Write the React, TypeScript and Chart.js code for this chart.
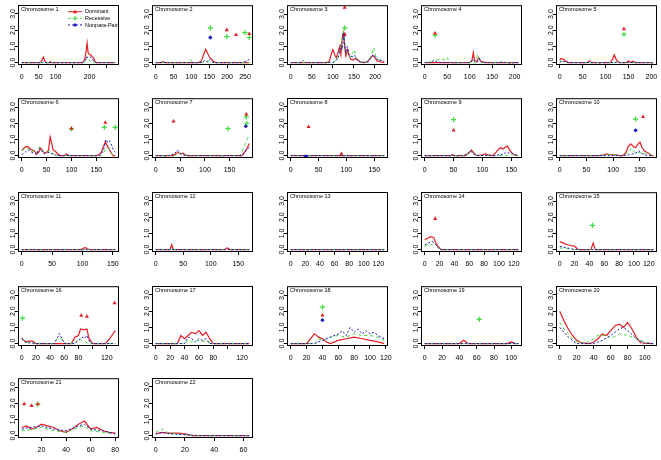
import React, { useEffect, useRef } from 'react';
import { Chart, registerables } from 'chart.js';
Chart.register(...registerables);

type P = [number, number];

const chrNames = Array.from({ length: 22 }, (_, i) => 'Chromosome ' + (i + 1));
const chrStart = [0, 0, 0, 0, 0, 0, 0, 0, 0, 0, 0, 0, 0, 0, 0, 0, 0, 0, 0, 0, 4, 0];
const chrEnd = [276, 262, 222, 208, 204, 188, 190, 168, 162, 175, 154, 170, 128, 126, 126, 132, 130, 118, 108, 110, 80, 64];
const xTickStep = [50, 50, 50, 50, 50, 50, 50, 50, 50, 50, 50, 50, 20, 20, 20, 20, 20, 20, 20, 20, 20, 20];
const xHiddenLabels: number[][] = [[150, 250], [], [], [], [], [], [], [], [], [], [], [], [], [], [], [100], [100], [], [], [], [], []];
const yTicks = [0, 1, 2, 3];
const yTickLabels = ['0.0', '1.0', '2.0', '3.0'];
const seriesNames = ['Dominant', 'Recessive', 'Nonpara-Pair'];

const dominantLOD: P[][] = [
  [[0,0],[55,0],[60,0.15],[64,0.35],[68,0.1],[72,0],[82,0],[85,0.06],[88,0],[180,0],[186,0.2],[190,0.7],[193,1.2],[196,0.6],[200,0.5],[205,0.45],[208,0.35],[212,0.3],[216,0.05],[220,0],[276,0]],
  [[0,0],[15,0],[20,0.05],[25,0],[120,0],[128,0.1],[134,0.5],[140,0.83],[145,0.6],[150,0.35],[155,0.25],[160,0.1],[168,0],[262,0]],
  [[0,0],[85,0],[92,0.1],[97,0.6],[100,0.8],[104,0.5],[108,0.3],[112,0.6],[116,0.95],[119,0.5],[122,1.5],[125,1.85],[128,1.0],[131,0.4],[135,0.8],[139,0.4],[143,0.2],[148,0.15],[153,0.25],[158,0.2],[163,0.05],[172,0],[182,0.05],[188,0.25],[195,0.45],[200,0.3],[205,0.1],[212,0.05],[222,0]],
  [[0,0],[100,0],[105,0.1],[108,0.62],[111,0.1],[115,0.05],[120,0.3],[124,0.1],[130,0.05],[135,0],[208,0]],
  [[0,0.15],[3,0.25],[8,0.2],[13,0.1],[18,0],[60,0],[65,0.1],[68,0],[110,0],[115,0.2],[119,0.48],[123,0.2],[127,0.05],[132,0],[145,0],[150,0.1],[155,0],[160,0.08],[165,0],[204,0]],
  [[0,0.3],[4,0.45],[8,0.55],[12,0.55],[16,0.45],[20,0.35],[25,0.3],[30,0.1],[34,0.2],[38,0.45],[42,0.3],[46,0.15],[50,0.2],[54,0.35],[57,1.15],[60,0.8],[63,0.35],[68,0.25],[72,0.1],[78,0],[86,0],[90,0.1],[94,0],[150,0],[155,0.05],[160,0.2],[164,0.55],[168,0.85],[172,0.6],[176,0.4],[180,0.15],[184,0],[188,0]],
  [[0,0],[35,0],[40,0.1],[45,0.2],[50,0.1],[55,0.15],[60,0.05],[65,0],[175,0],[180,0.2],[184,0.35],[190,0.75]],
  [[0,0],[168,0]],
  [[0,0],[45,0],[48,0.05],[52,0],[70,0],[76,0.15],[81,0.35],[85,0.15],[90,0],[100,0.05],[105,0.1],[110,0.05],[118,0],[122,0.15],[127,0.35],[131,0.5],[135,0.4],[139,0.5],[143,0.6],[147,0.35],[151,0.15],[155,0.05],[162,0]],
  [[0,0],[75,0],[82,0.05],[88,0.1],[95,0.05],[105,0.05],[112,0],[118,0],[124,0.2],[128,0.55],[133,0.73],[138,0.55],[142,0.5],[146,0.7],[150,0.83],[154,0.5],[158,0.3],[163,0.2],[168,0.1],[172,0],[175,0]],
  [[0,0],[98,0],[102,0.1],[105,0.12],[108,0.05],[112,0],[154,0]],
  [[0,0],[26,0],[29,0.3],[32,0],[125,0],[130,0.1],[135,0],[170,0]],
  [[0,0],[128,0]],
  [[0,0.6],[4,0.7],[8,0.8],[12,0.75],[15,0.4],[18,0.2],[22,0],[126,0]],
  [[0,0.5],[5,0.4],[10,0.3],[15,0.25],[20,0.2],[25,0],[42,0],[45,0.4],[48,0],[126,0]],
  [[0,0.35],[5,0.1],[10,0.15],[15,0.15],[20,0],[70,0],[75,0.4],[80,0.5],[83,0.9],[88,0.85],[92,0.9],[95,0.3],[100,0],[118,0],[124,0.3],[132,0.8]],
  [[0,0],[30,0],[35,0.5],[40,0.3],[45,0.5],[50,0.7],[55,0.6],[60,0.8],[65,0.5],[70,0.7],[75,0.3],[80,0],[130,0]],
  [[0,0],[20,0],[25,0.3],[30,0.6],[35,0.4],[40,0.3],[45,0.1],[50,0],[60,0.2],[70,0.3],[80,0.4],[90,0.3],[100,0.2],[110,0.1],[118,0]],
  [[0,0],[40,0],[45,0.2],[50,0],[95,0],[100,0.1],[105,0],[108,0]],
  [[0,2.0],[5,1.4],[10,0.9],[15,0.5],[20,0.2],[25,0.05],[35,0],[40,0.1],[45,0.3],[50,0.6],[55,0.5],[60,0.8],[65,1.1],[70,1.2],[75,1.0],[80,1.3],[85,0.9],[90,0.4],[95,0.05],[110,0]],
  [[4,0.5],[8,0.6],[12,0.4],[16,0.5],[20,0.7],[25,0.6],[30,0.5],[35,0.3],[40,0.2],[45,0.4],[50,0.7],[55,0.9],[60,0.4],[65,0.5],[70,0.3],[75,0.2],[80,0.15]],
  [[0,0.1],[4,0.2],[8,0.15],[15,0.15],[20,0.1],[25,0],[64,0]],
];

const recessiveLOD: P[][] = [
  [[0,0],[185,0],[190,0.2],[193,0.35],[197,0.2],[202,0.1],[206,0],[276,0]],
  [[0,0],[90,0],[97,0.2],[103,0],[140,0],[150,0.1],[158,0],[262,0]],
  [[0,0],[100,0],[108,0.1],[115,0.6],[120,1.2],[125,2.0],[128,1.3],[132,0.5],[137,0.6],[142,0.3],[147,0.6],[151,0.8],[155,0.3],[160,0.1],[170,0],[185,0.1],[192,0.5],[197,0.9],[202,0.4],[208,0.2],[222,0.1]],
  [[0,0],[15,0.05],[25,0.15],[32,0.2],[38,0.25],[45,0.15],[50,0.3],[55,0.05],[60,0],[112,0],[118,0.48],[122,0.1],[130,0],[165,0],[170,0.05],[175,0],[208,0]],
  [[0,0.1],[8,0.05],[15,0],[204,0]],
  [[0,0.3],[5,0.4],[10,0.5],[15,0.4],[20,0.25],[25,0.3],[30,0.15],[36,0.55],[40,0.35],[45,0.2],[50,0.2],[56,0.3],[62,0.15],[70,0],[160,0],[165,0.2],[170,0.45],[175,0.45],[180,0.15],[185,0],[188,0]],
  [[0,0],[40,0],[48,0.15],[55,0.1],[62,0],[170,0],[175,0.2],[179,0.5],[183,0.85],[190,1.25]],
  [[0,0],[168,0]],
  [[0,0],[70,0],[76,0.1],[80,0.3],[85,0.1],[90,0],[140,0],[150,0.05],[162,0]],
  [[0,0],[80,0],[88,0.1],[95,0.05],[115,0],[125,0.1],[130,0.2],[134,0.45],[138,0.25],[144,0.15],[150,0.2],[155,0.1],[162,0.15],[170,0.05],[175,0]],
  [[0,0],[154,0]],
  [[0,0],[170,0]],
  [[0,0],[128,0]],
  [[0,0.2],[5,0.3],[10,0.3],[13,0.4],[17,0.2],[22,0],[126,0]],
  [[0,0.1],[10,0.05],[20,0],[126,0]],
  [[0,0.3],[5,0.15],[10,0.05],[20,0],[45,0],[50,0.3],[55,0.3],[58,0.25],[62,0],[75,0],[80,0.3],[85,0.2],[90,0.1],[95,0],[132,0]],
  [[0,0],[40,0],[45,0.2],[50,0.1],[60,0.2],[70,0.1],[80,0],[130,0]],
  [[0,0],[30,0],[35,0.3],[40,0.2],[50,0.4],[60,0.5],[70,0.4],[80,0.6],[90,0.5],[100,0.5],[110,0.4],[118,0.2]],
  [[0,0],[108,0]],
  [[0,1.3],[5,0.9],[10,0.6],[15,0.3],[20,0.1],[30,0],[40,0.3],[45,0.5],[55,0.5],[60,0.3],[70,0.6],[80,0.5],[90,0.3],[100,0.1],[110,0]],
  [[4,0.3],[10,0.35],[20,0.5],[30,0.3],[40,0.2],[50,0.5],[55,0.6],[60,0.3],[70,0.2],[80,0.1]],
  [[0,0.2],[4,0.4],[8,0.2],[15,0.1],[25,0],[64,0]],
];

const nonparaLOD: P[][] = [
  [[0,0],[55,0],[60,-0.03],[65,0.05],[70,0],[180,0],[186,0.1],[192,0.35],[197,0.3],[202,0.35],[207,0.25],[212,0.1],[218,0],[276,0]],
  [[0,0],[60,0],[65,-0.03],[70,0],[130,0],[138,0.15],[145,0.05],[152,0.2],[158,0.05],[165,0],[240,0],[250,0.05],[258,0.15],[262,0.2]],
  [[0,0],[25,0],[30,0.15],[35,0],[100,0],[108,0.15],[113,0.3],[118,1.1],[122,0.8],[126,1.7],[130,0.6],[134,1.0],[138,0.5],[143,0.4],[148,0.35],[152,0.45],[156,0.2],[165,0.05],[175,0],[185,0.05],[190,0.3],[196,0.5],[202,0.3],[210,0.1],[218,0.15],[222,0.05]],
  [[0,0],[15,0.02],[20,0.15],[25,0.05],[35,0],[60,0],[65,-0.03],[70,0],[100,0],[107,0.2],[112,0.05],[118,0.05],[121,0.25],[126,0],[180,0],[190,-0.03],[200,0],[208,0]],
  [[0,0],[5,0.1],[12,0.05],[20,0],[80,0],[85,-0.03],[90,0],[120,0],[125,0.05],[130,0],[195,0],[200,-0.03],[204,0]],
  [[0,0.05],[5,0.15],[10,0.3],[15,0.35],[20,0.2],[25,0.15],[30,0.05],[35,0.45],[40,0.3],[45,0.1],[50,0.15],[55,0.2],[62,0.1],[70,0],[155,0],[160,0.1],[165,0.4],[169,1.0],[173,0.8],[177,0.9],[181,0.6],[185,0.3],[188,0.2]],
  [[0,0],[15,0],[20,-0.03],[25,0],[38,0.1],[44,0.35],[48,0.2],[52,0.1],[58,0],[130,0],[135,-0.03],[140,0],[175,0],[179,0.1],[183,0.35],[190,0.5]],
  [[0,0],[168,0]],
  [[0,0],[50,0],[55,-0.03],[60,0],[72,0.05],[79,0.3],[84,0.1],[90,0],[125,0],[130,0.1],[135,0.05],[140,0.2],[145,0.15],[150,0.2],[155,0.05],[162,0]],
  [[0,0],[120,0],[130,0.05],[136,0.1],[142,0.15],[148,0.3],[153,0.15],[158,0.05],[165,0],[175,0]],
  [[0,0],[25,0],[30,-0.03],[40,0],[95,0],[100,-0.03],[105,0],[154,0]],
  [[0,0],[170,0]],
  [[0,0],[128,0]],
  [[0,0.3],[5,0.4],[10,0.5],[15,0.3],[20,0],[126,0]],
  [[0,0.2],[10,0.1],[20,0],[126,0]],
  [[0,0.3],[5,0.1],[10,0.05],[20,0],[45,0],[50,0.3],[53,0.62],[57,0.3],[60,0],[75,0],[80,0.2],[85,0.4],[88,0.3],[92,0.5],[96,0.1],[100,0],[132,0]],
  [[0,0],[40,0],[45,0.4],[50,0.3],[55,0.1],[60,0.3],[65,0.2],[70,0.3],[75,0],[130,0]],
  [[0,0],[30,0],[40,0.2],[50,0.4],[60,0.6],[65,0.8],[70,0.5],[75,1.0],[80,0.7],[85,0.9],[90,0.6],[95,0.8],[100,0.6],[105,0.7],[110,0.5],[118,0.3]],
  [[0,0],[108,0]],
  [[0,1.0],[5,0.7],[10,0.4],[15,0.2],[20,0],[40,0],[50,0.2],[60,0.5],[70,0.9],[75,1.0],[80,0.8],[90,0.3],[100,0],[110,0]],
  [[4,0.4],[10,0.5],[20,0.6],[30,0.4],[40,0.3],[50,0.6],[55,0.7],[60,0.4],[70,0.3],[80,0.1]],
  [[0,0.1],[5,0.2],[10,0.1],[20,0.05],[30,0],[64,0]],
];

// [chromosome index, position, LOD]
const dominantPeaks: [number, number, number][] = [
  [1,199,2.02],[1,225,1.72],[1,262,1.78],
  [2,128,3.4],[2,128,1.75],
  [3,23,1.81],
  [4,140,2.08],
  [5,100,1.67],[5,168,2.04],
  [6,36,2.12],[6,184,2.55],
  [7,32,1.77],[7,91,0.1],
  [8,50,1.56],
  [9,156,2.4],
  [13,14,1.9],
  [15,84,1.73],[15,92,1.67],[15,131,2.5],
  [17,40,1.75],
  [20,6,1.95],[20,12,1.85],[20,17,1.95],
];
const recessivePeaks: [number, number, number][] = [
  [1,153,2.15],[1,199,1.6],[1,250,1.85],[1,262,1.55],
  [2,128,2.15],
  [3,23,1.7],
  [4,140,1.75],
  [5,100,1.65],[5,166,1.75],[5,188,1.75],
  [6,147,1.67],[6,184,2.4],[6,185,2.0],
  [8,50,2.23],
  [9,142,2.25],
  [14,44,1.5],
  [15,1,1.58],
  [17,40,2.25],
  [18,63,1.5],
  [20,17,1.95],
];
const nonparaPeaks: [number, number, number][] = [
  [1,153,1.55],
  [2,127,1.72],
  [6,183,1.82],
  [7,27,-0.05],
  [9,142,1.56],
  [17,40,1.45],
];

const RED = 'rgb(228,30,36)';
const GREEN = 'rgb(60,220,60)';
const BLUE = 'rgb(25,25,190)';
const FONT = 'Liberation Sans, Arial, Helvetica, sans-serif';

const CW = 134;
const CH = 93;
const PLOT_LEFT = 18;
const PLOT_TOP = 5;
const PLOT_W = 101;
const PLOT_H = 60;
const colLefts = [0, 134, 269, 403, 538];
const rowTops = [0, 93, 187, 281, 373];

const toXY = (arr: P[]) => arr.map(([x, y]) => ({ x, y }));

const decorPlugin = {
  id: 'panelDecor',
  afterDraw(chart: any, _args: any, opts: any) {
    const { ctx, chartArea: a } = chart;
    ctx.save();
    ctx.strokeStyle = '#000';
    ctx.lineWidth = 1;
    ctx.strokeRect(a.left + 0.5, a.top + 0.5, a.right - a.left - 1, a.bottom - a.top - 1);
    // title
    ctx.fillStyle = '#000';
    ctx.font = '5.5px ' + FONT;
    ctx.textAlign = 'left';
    ctx.textBaseline = 'middle';
    ctx.fillText(opts.title, a.left + 3, a.top + 4);
    // y tick labels (rotated, R style)
    const ys = chart.scales.y;
    ctx.font = '7px ' + FONT;
    ctx.textAlign = 'center';
    yTicks.forEach((v, i) => {
      const py = ys.getPixelForValue(v);
      ctx.save();
      ctx.translate(a.left - 5, py);
      ctx.rotate(-Math.PI / 2);
      ctx.fillText(yTickLabels[i], 0, 0);
      ctx.restore();
    });
    // legend
    if (opts.legend) {
      const lx = a.left + 50;
      const rows = [6.7, 13.3, 20];
      const cols = [RED, GREEN, BLUE];
      ctx.font = '5.5px ' + FONT;
      ctx.textAlign = 'left';
      rows.forEach((ry, i) => {
        const y = a.top + ry;
        ctx.strokeStyle = cols[i];
        ctx.fillStyle = cols[i];
        ctx.lineWidth = 1;
        ctx.setLineDash(i === 0 ? [] : i === 1 ? [3, 3] : [2, 2]);
        ctx.beginPath();
        ctx.moveTo(lx, y);
        ctx.lineTo(lx + 14, y);
        ctx.stroke();
        ctx.setLineDash([]);
        const mx = lx + 7;
        ctx.beginPath();
        if (i === 0) {
          ctx.moveTo(mx, y - 2.2); ctx.lineTo(mx + 2.2, y + 1.6); ctx.lineTo(mx - 2.2, y + 1.6); ctx.closePath(); ctx.fill();
        } else if (i === 1) {
          ctx.moveTo(mx - 2.5, y); ctx.lineTo(mx + 2.5, y); ctx.moveTo(mx, y - 2.5); ctx.lineTo(mx, y + 2.5); ctx.stroke();
        } else {
          ctx.moveTo(mx, y - 2); ctx.lineTo(mx + 2, y); ctx.lineTo(mx, y + 2); ctx.lineTo(mx - 2, y); ctx.closePath(); ctx.fill();
        }
        ctx.fillStyle = '#000';
        ctx.fillText(seriesNames[i], lx + 17, y);
      });
    }
    ctx.restore();
  },
};

function makeConfig(idx: number): any {
  const s = chrStart[idx];
  const e = chrEnd[idx];
  const pad = (e - s) * 0.04;
  const step = xTickStep[idx];
  const tickVals: number[] = [];
  for (let v = Math.ceil(s / step) * step; v <= e + pad; v += step) tickVals.push(v);
  const hidden = xHiddenLabels[idx];
  const peaks = (list: [number, number, number][]) =>
    list.filter((p) => p[0] === idx).map((p) => ({ x: p[1], y: p[2] }));
  return {
    type: 'line',
    data: {
      datasets: [
        { label: 'Dominant peaks', data: peaks(dominantPeaks), showLine: false, pointStyle: 'triangle', pointRadius: 2.4, backgroundColor: RED, borderColor: RED, borderWidth: 0, order: 0 },
        { label: 'Recessive peaks', data: peaks(recessivePeaks), showLine: false, pointStyle: 'cross', pointRadius: 2.6, backgroundColor: GREEN, borderColor: GREEN, borderWidth: 1.2, order: 0 },
        { label: 'Nonpara peaks', data: peaks(nonparaPeaks), showLine: false, pointStyle: 'rectRot', pointRadius: 2.2, backgroundColor: BLUE, borderColor: BLUE, borderWidth: 0, order: 0 },
        { label: 'Nonpara-Pair', data: toXY(nonparaLOD[idx]), borderColor: BLUE, borderWidth: 1, borderDash: [2, 2], pointRadius: 0, tension: 0, fill: false, order: 1 },
        { label: 'Recessive', data: toXY(recessiveLOD[idx]), borderColor: GREEN, borderWidth: 1, borderDash: [3, 3], pointRadius: 0, tension: 0, fill: false, order: 2 },
        { label: 'Dominant', data: toXY(dominantLOD[idx]), borderColor: RED, borderWidth: 1.2, pointRadius: 0, tension: 0, fill: false, order: 3 },
      ],
    },
    options: {
      animation: false,
      responsive: false,
      devicePixelRatio: 1,
      events: [],
      layout: { padding: { left: 0, top: PLOT_TOP, right: CW - PLOT_LEFT - PLOT_W, bottom: 0 } },
      plugins: {
        legend: { display: false },
        tooltip: { enabled: false },
        panelDecor: { title: chrNames[idx], legend: idx === 0 },
      },
      scales: {
        x: {
          type: 'linear',
          min: s - pad,
          max: e + pad,
          afterBuildTicks: (sc: any) => { sc.ticks = tickVals.map((value) => ({ value })); },
          afterFit: (sc: any) => { sc.height = CH - PLOT_TOP - PLOT_H; },
          ticks: {
            autoSkip: false,
            maxRotation: 0,
            minRotation: 0,
            padding: 5,
            color: '#000',
            font: { size: 7, family: FONT },
            callback: (v: number) => (hidden.includes(v) ? '' : String(v)),
          },
          grid: { display: true, drawOnChartArea: false, drawTicks: true, tickLength: 3, color: '#000', lineWidth: 1 },
          border: { display: false },
        },
        y: {
          type: 'linear',
          min: -0.15,
          max: 3.55,
          afterBuildTicks: (sc: any) => { sc.ticks = yTicks.map((value) => ({ value })); },
          afterFit: (sc: any) => { sc.width = PLOT_LEFT; },
          ticks: { display: false },
          grid: { display: true, drawOnChartArea: false, drawTicks: true, tickLength: 3, color: '#000', lineWidth: 1 },
          border: { display: false },
        },
      },
    },
    plugins: [decorPlugin],
  };
}

function Panel({ idx }: { idx: number }) {
  const ref = useRef<HTMLCanvasElement>(null);
  useEffect(() => {
    const chart = new Chart(ref.current as HTMLCanvasElement, makeConfig(idx));
    return () => chart.destroy();
  }, [idx]);
  const col = idx % 5;
  const row = Math.floor(idx / 5);
  return (
    <canvas
      ref={ref}
      width={CW}
      height={CH}
      style={{ position: 'absolute', left: colLefts[col], top: rowTops[row], width: CW, height: CH }}
    />
  );
}

export default function App() {
  return (
    <div style={{ position: 'absolute', left: 0, top: 0, width: 661, height: 460, background: '#fff', overflow: 'hidden' }}>
      {chrNames.map((_, i) => (
        <Panel key={i} idx={i} />
      ))}
    </div>
  );
}
